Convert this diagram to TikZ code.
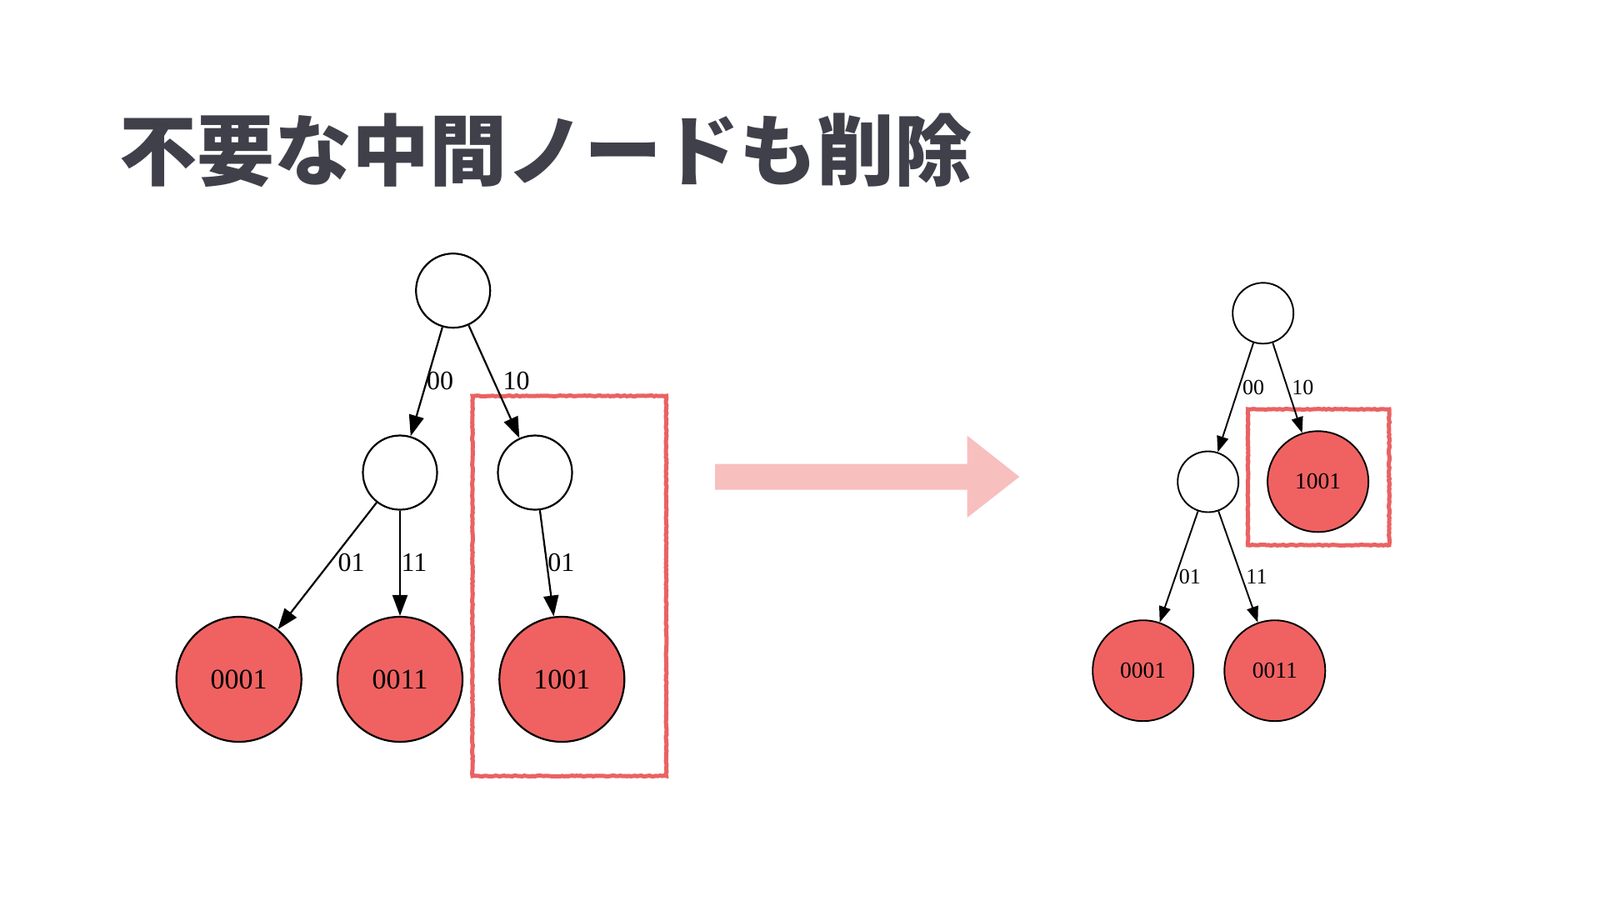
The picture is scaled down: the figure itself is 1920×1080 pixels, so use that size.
\documentclass[tikz,border=0pt]{standalone}
\usepackage{fontspec}
\setmainfont{Liberation Serif}
\newfontfamily\jpfont{Noto Sans CJK JP}
\usetikzlibrary{arrows.meta,decorations.pathmorphing}
\definecolor{leafred}{HTML}{F06262}
\definecolor{boxred}{HTML}{EA6262}
\definecolor{arrowpink}{HTML}{F8BFBF}
\definecolor{titlegray}{HTML}{40404B}
\begin{document}
\begin{tikzpicture}[x=1pt,y=-1pt,
  inodeL/.style={circle,draw,line width=2.2pt,fill=white,minimum size=89pt,inner sep=0pt},
  leafL/.style={circle,draw,line width=2.2pt,fill=leafred,minimum size=150pt,inner sep=0pt,font=\fontsize{34}{34}\selectfont},
  edgeL/.style={line width=2.2pt,-{Triangle[length=25pt,width=18pt]}},
  elabL/.style={inner sep=0pt,font=\fontsize{32}{32}\selectfont},
  inodeR/.style={circle,draw,line width=1.9pt,fill=white,minimum size=73pt,inner sep=0pt},
  leafR/.style={circle,draw,line width=1.9pt,fill=leafred,minimum size=121pt,inner sep=0pt,font=\fontsize{27.5}{27.5}\selectfont},
  edgeR/.style={line width=1.9pt,-{Triangle[length=19pt,width=14pt]}},
  elabR/.style={inner sep=0pt,font=\fontsize{26}{26}\selectfont},
  hilite/.style={draw=boxred,line width=5pt,decorate,decoration={random steps,segment length=2.5pt,amplitude=0.5pt}},
  bigarrow/.style={fill=arrowpink,draw=none}
]
\useasboundingbox[fill=white] (0,0) rectangle (1920,1080);

% title
\node[anchor=base west,inner sep=0pt,text=titlegray,font=\jpfont\bfseries\fontsize{93}{100}\selectfont] (title) at (143,215) {不要な中間ノードも削除};

% highlight boxes
\draw[hilite] (567,475) rectangle (799.5,931);
\draw[hilite] (1497.5,491) rectangle (1667,654);

% left tree
\node[inodeL] (lr) at (543.7,348.7) {};
\node[inodeL] (lm1) at (480,567) {};
\node[inodeL] (lm2) at (642,567) {};
\node[leafL] (l1) at (286.7,815) {0001};
\node[leafL] (l2) at (480,815) {0011};
\node[leafL] (l3) at (674.3,815) {1001};
\draw[edgeL] (lr) -- (lm1);
\draw[edgeL] (lr) -- (lm2);
\draw[edgeL] (lm1) -- (l1);
\draw[edgeL] (lm1) -- (l2);
\draw[edgeL] (lm2) -- (l3);
\node[elabL] (la) at (528,457.5) {00};
\node[elabL] (lb) at (619.7,457.5) {10};
\node[elabL] (lc) at (421.7,675) {01};
\node[elabL] (ld) at (497,675) {11};
\node[elabL] (le) at (673.3,675) {01};

% transform arrow
\fill[bigarrow] (858,556.7) -- (1160.7,556.7) -- (1160.7,522.7) -- (1223.3,572) -- (1160.7,621) -- (1160.7,587.7) -- (858,587.7) -- cycle;

% right tree
\node[inodeR] (rr) at (1515.7,375.8) {};
\node[inodeR] (rm) at (1449.7,578) {};
\node[leafR] (r1) at (1581.6,577.8) {1001};
\node[leafR] (r2) at (1371.7,804.7) {0001};
\node[leafR] (r3) at (1529.8,804.7) {0011};
\draw[edgeR] (rr) -- (rm);
\draw[edgeR] (rr) -- (r1);
\draw[edgeR] (rm) -- (r2);
\draw[edgeR] (rm) -- (r3);
\node[elabR] (ra) at (1504,465.3) {00};
\node[elabR] (rb) at (1563.3,465.3) {10};
\node[elabR] (rc) at (1427.8,692) {01};
\node[elabR] (rd) at (1508,692) {11};
\end{tikzpicture}
\end{document}
